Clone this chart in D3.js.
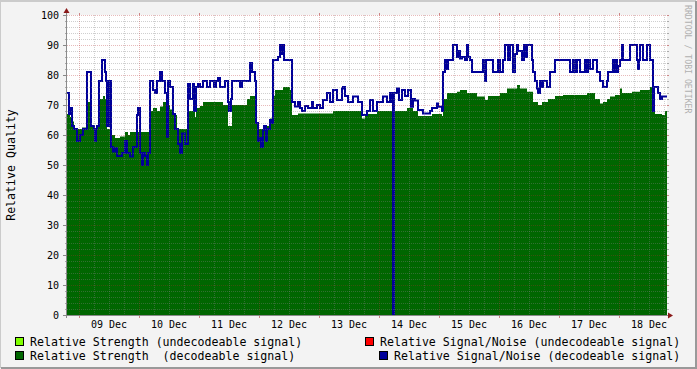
<!DOCTYPE html>
<html><head><meta charset="utf-8">
<script src="https://cdn.jsdelivr.net/npm/d3@7"></script>
<style>
body{margin:0;background:#F3F3F3}
svg{display:block}
text{font-family:"DejaVu Sans Mono",monospace;fill:#000}
</style>
</head><body>
<svg id="c" width="697" height="369"></svg>
<script>
// ---- DATA ----
const startTime = "2010-12-08T19:12:00Z";
const endTime   = "2010-12-18T19:12:00Z";
const yTickValues = [0,10,20,30,40,50,60,70,80,90,100];
const yAxisTitle = "Relative Quality";
const watermark = "RRDTOOL / TOBI OETIKER";
// step series: [hours since startTime, value]
const strengthDecodeable = [
 [0,67],[1.2,66],[2,64.5],[2.8,62],[6,62.5],[8,71],[9.2,63],[11.2,61.7],[12.4,69.5],[13.2,72],
 [14.4,73],[15.2,72],[16,62],[17.2,60],[19.2,59],[21.2,59.5],[23.2,61],[24.4,60],[25.2,61],[29.2,61],
 [33.2,68],[34.4,69],[36,68],[37.2,69.5],[38.4,71],[40,70],[41.2,68.5],[42.4,66.7],[44,62],[48.4,68],
 [50.4,69],[51.2,66],[51.6,69],[53.2,69.7],[54.4,71],[62.4,70],[64.4,63],[66,70],[72,72],[73.2,73],
 [75.6,64],[76.4,62],[79.2,63],[81.2,65.5],[82.4,73],[83.2,75],[86.4,76],[89.2,75],[90,66.7],[92.4,67.2],
 [106.4,68],[118,65.5],[119.2,67],[124,68],[136,69],[138.4,68],[140.4,66.3],[146,67],[150,66.3],[150.4,72],
 [152,74],[156,74.4],[157.2,75],[160,74],[164,72.8],[167.2,71.7],[168.4,73],[173.2,74],[176,75.5],[180,76.7],
 [181.2,75.5],[184,74.4],[186.4,71],[188.4,70],[190,71],[192.4,72],[195.2,73],[198.4,73.3],[208,74],[211.2,72],
 [213.2,70.5],[214.4,71],[216,72],[217.2,72.8],[219.2,73.3],[221.2,75.5],[222,74],[226,74.4],[229.2,75],[233.2,76],
 [234.4,72],[235.2,67],[238,66.7],[239.2,68]
];
const snrDecodeable = [
 [0,74],[0.8,67],[1.6,69],[2,63],[2.8,62],[4,58],[5.2,60],[6.4,62],[8,81],[9.6,63],
 [10.8,62],[11.2,58],[11.6,62],[12,63],[12.8,78],[14,85],[15.2,81],[15.6,78],[16,63],[16.8,78],
 [17.6,56],[18.4,54.5],[19.2,55.6],[20,53],[22,54],[23.2,58],[24,54],[25.2,52.8],[26.4,56],[28,66.7],
 [28.4,69],[29.2,54],[30,50],[30.4,54],[31.2,53],[32,50],[32.4,54],[33.2,78],[34.4,75],[35.2,74],
 [36,78],[37.2,81],[38,78],[39.2,74],[40,59.4],[40.4,78],[41.2,76],[42.4,67],[43.2,62],[44.4,57],
 [45.2,54],[46,60.5],[47.2,57],[48.4,77],[49.2,72],[50.4,77],[50.8,68],[51.6,76],[52.4,77],[53.2,76],
 [54.4,78],[56,76],[57.2,78],[58.8,76],[59.6,78],[60.4,79],[61.2,76],[63.2,78],[64.4,71],[64.8,68],
 [65.6,72],[66,78],[69.2,76],[70,78],[73.2,84],[74,81],[75.2,78],[75.6,64],[76.4,58],[77.2,59],
 [77.6,56],[78.4,61.7],[78.8,63],[79.6,58],[80,62],[81.2,65],[82,64],[82.4,85],[84.4,86],[85.2,90],
 [85.6,87],[86,90],[86.8,85],[90,71],[91.2,69.5],[92.4,71],[93.2,69],[94,68],[95.2,69.7],[96.4,69],
 [98,71],[98.4,69],[100,70],[101.2,69],[102.4,71.7],[104,74],[105.2,71],[106.4,75],[108,71.7],[110,75.5],
 [110.4,76],[111.2,73],[112.4,71],[114.4,72.8],[116.4,71],[118,66.7],[120,68],[121.2,71.7],[122.4,68],[124,71],
 [126.4,72.8],[128,71],[129.2,74],[130,71],[130.4,0],[130.8,74],[132,75.5],[132.8,71.7],[134,75],[135.2,73],
 [136.4,75],[137.6,69.4],[138.4,72],[139.2,71.5],[140.4,68.3],[142.4,67.2],[145.2,68],[146,69],[148,70.5],[148.4,69.4],
 [150,68],[150.4,81],[151.2,85],[152,82],[152.4,85],[154.4,90],[156,86],[156.4,88],[157.2,85.5],[158,86],
 [159.2,85],[160,90],[160.4,86],[161.2,85],[162,81],[166.4,85],[167.2,78],[167.6,85],[170.4,81],[172.4,85],
 [173.2,81],[174.4,85],[175.2,90],[176.4,85],[177.2,90],[178.4,81],[179.2,87],[180,90],[180.4,88],[182,85],
 [182.8,90],[183.2,86],[184,90],[186,85],[186.4,81],[187.2,78],[188,75.5],[188.4,74],[189.2,78],[190,76],
 [190.4,78],[192,76],[193.2,81],[195.2,85],[201.2,81],[202.4,85],[203.2,81],[204,85],[205.2,81],[207.2,85],
 [207.6,81],[208.4,85],[209.2,82],[210.4,85],[212,81],[213.2,78],[214.4,76],[216,78],[216.4,81],[218.4,85],
 [218.8,81],[219.2,85],[220,81],[220.4,83],[221.2,85],[222,90],[222.4,85],[225.2,90],[228,85],[228.4,82],
 [228.8,85],[229.2,90],[230.4,85],[232,90],[233.2,85],[234.4,68],[234.8,76],[236.4,74],[237.2,72],[238,72.8]
];
const strengthUndecodeable = [];
const snrUndecodeable = [];
const legendLabels = [
 "Relative Strength (undecodeable signal)",
 "Relative Signal/Noise (undecodeable signal)",
 "Relative Strength  (decodeable signal)",
 "Relative Signal/Noise (decodeable signal)"
];
const legendColors = ["#80FF00","#FF0000","#006600","#000099"];

// ---- DRAW ----
const svg = d3.select("#c");
const W = 697, H = 369;
const L = 67, R = 667, T = 15, B = 315;
const t0 = new Date(startTime), t1 = new Date(endTime);
const x = d3.scaleUtc().domain([t0, t1]).range([L, R]);
const y = d3.scaleLinear().domain([0, 100]).range([B, T]);

// background & frame
svg.append("rect").attr("width", W).attr("height", H).attr("fill", "#F3F3F3");
svg.append("rect").attr("x", L).attr("y", T).attr("width", R - L).attr("height", B - T).attr("fill", "#FFFFFF");
svg.append("path").attr("d", `M0,${H-1}V1H${W-1}`).attr("fill","none").attr("stroke","#CBCBCB").attr("stroke-width",2);
svg.append("path").attr("d", `M1,${H-1}H${W-1}V1`).attr("fill","none").attr("stroke","#999999").attr("stroke-width",2);

function toPts(steps) {
  const pts = steps.map(([h, v]) => ({ t: new Date(+t0 + h * 3600e3), v }));
  if (pts.length) pts.push({ t: t1, v: pts[pts.length - 1].v });
  return pts;
}

const gData = svg.append("g");
const sPts = toPts(strengthDecodeable);
gData.append("path").datum(sPts)
  .attr("fill", legendColors[2])
  .attr("d", d3.area().curve(d3.curveStepAfter).x(d => x(d.t)).y0(y(0)).y1(d => y(d.v)));
const uPts = toPts(strengthUndecodeable);
if (uPts.length) gData.append("path").datum(uPts).attr("fill", legendColors[0])
  .attr("d", d3.area().curve(d3.curveStepAfter).x(d => x(d.t)).y0(y(0)).y1(d => y(d.v)));

const nPts = toPts(snrDecodeable);
gData.append("path").datum(nPts)
  .attr("fill", "none").attr("stroke", legendColors[3]).attr("stroke-width", 2)
  .attr("d", d3.line().curve(d3.curveStepAfter).x(d => x(d.t)).y(d => y(d.v)));

// grid (drawn over data, like rrdtool)
const gGrid = svg.append("g");
const minorCol = "rgba(130,130,130,0.38)", majorCol = "rgba(180,40,40,0.32)";
const yMinor = d3.range(0, 101, 2).filter(v => v % 10 !== 0);
yMinor.forEach(v => {
  const yy = Math.round(y(v)) + 0.5;
  gGrid.append("line").attr("x1", L).attr("x2", R).attr("y1", yy).attr("y2", yy)
    .attr("stroke", minorCol).attr("stroke-dasharray", "1,1");
  gGrid.append("line").attr("x1", L-2).attr("x2", L).attr("y1", yy).attr("y2", yy).attr("stroke", "#aaa");
  gGrid.append("line").attr("x1", R).attr("x2", R+2).attr("y1", yy).attr("y2", yy).attr("stroke", "#aaa");
});
yTickValues.forEach(v => {
  const yy = Math.round(y(v)) + 0.5;
  if (v > 0) gGrid.append("line").attr("x1", L).attr("x2", R).attr("y1", yy).attr("y2", yy)
    .attr("stroke", majorCol).attr("stroke-dasharray", "1,1");
  gGrid.append("line").attr("x1", L-4).attr("x2", L).attr("y1", yy).attr("y2", yy).attr("stroke", "#888");
  gGrid.append("line").attr("x1", R).attr("x2", R+2).attr("y1", yy).attr("y2", yy).attr("stroke", "#c88");
});
const xMinor = d3.utcHour.every(6).range(t0, t1).filter(d => d.getUTCHours() !== 0);
xMinor.forEach(d => {
  const xx = Math.round(x(d)) + 0.5;
  gGrid.append("line").attr("x1", xx).attr("x2", xx).attr("y1", T).attr("y2", B)
    .attr("stroke", minorCol).attr("stroke-dasharray", "1,1");
});
const xMajor = d3.utcDay.range(t0, t1);
xMajor.forEach(d => {
  const xx = Math.round(x(d)) + 0.5;
  gGrid.append("line").attr("x1", xx).attr("x2", xx).attr("y1", T).attr("y2", B)
    .attr("stroke", majorCol).attr("stroke-dasharray", "1,1");
  gGrid.append("line").attr("x1", xx).attr("x2", xx).attr("y1", B).attr("y2", B+3).attr("stroke", "#c88");
  gGrid.append("line").attr("x1", xx).attr("x2", xx).attr("y1", T-2).attr("y2", T).attr("stroke", "#c88");
});

// axes
svg.append("line").attr("x1", L-0.5).attr("x2", L-0.5).attr("y1", B+3).attr("y2", 11).attr("stroke", "#8a8a8a");
svg.append("line").attr("x1", L-4).attr("x2", R+3).attr("y1", B+0.5).attr("y2", B+0.5).attr("stroke", "#8a8a8a");
svg.append("path").attr("d", `M${L-3.5},${T-2}L${L+2.5},${T-2}L${L-0.5},${T-7}Z`).attr("fill", "#8B1A1A");
svg.append("path").attr("d", `M${R+1},${B-2.5}L${R+1},${B+3.5}L${R+6},${B+0.5}Z`).attr("fill", "#8B1A1A");

// tick labels
yTickValues.forEach(v => {
  svg.append("text").attr("x", 59).attr("y", y(v) + 3.5).attr("text-anchor", "end")
    .attr("font-size", "10px").text(v);
});
const fmt = d3.utcFormat("%d %b");
xMajor.forEach(d => {
  const noon = d3.utcHour.offset(d, 12);
  if (noon < t1) svg.append("text").attr("x", x(noon)).attr("y", 328).attr("text-anchor", "middle")
    .attr("font-size", "10px").text(fmt(noon));
});

// y title
svg.append("text").attr("transform", `translate(15,${(T+B)/2}) rotate(-90)`).attr("text-anchor", "middle")
  .attr("font-size", "11.6px").text(yAxisTitle);
// watermark
svg.append("text").attr("transform", "translate(685,5) rotate(90)").attr("font-size", "8.2px")
  .style("fill", "#b0b0b0").text(watermark);

// legend
const legPos = [[15,337,30],[365,337,380],[15,351,30],[379,351,394]];
legendLabels.forEach((lab, i) => {
  const [bx, by, tx] = legPos[i];
  svg.append("rect").attr("x", bx + 0.5).attr("y", by + 0.5).attr("width", 8).attr("height", 8)
    .attr("fill", legendColors[i]).attr("stroke", "#000").attr("stroke-width", 1);
  svg.append("text").attr("x", tx).attr("y", by + 8.5).attr("font-size", "11.6px")
    .attr("xml:space", "preserve").style("white-space", "pre").text(lab);
});
</script>
</body></html>
